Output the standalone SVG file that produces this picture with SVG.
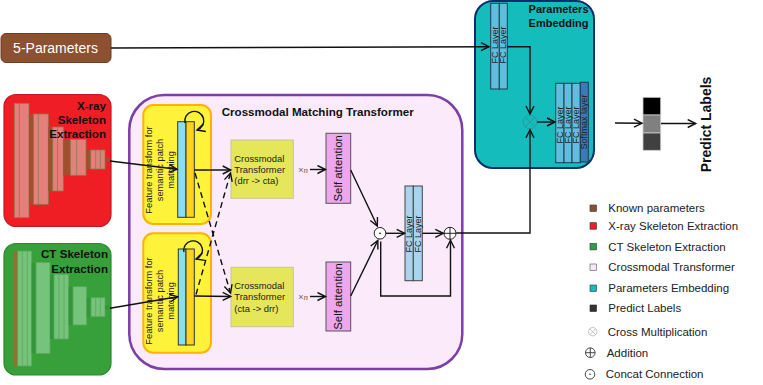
<svg xmlns="http://www.w3.org/2000/svg" width="763" height="385" viewBox="0 0 763 385">
<defs>
<style>
.t{font-family:"Liberation Sans",Arial,sans-serif;fill:#111}
.b{font-weight:bold}
.ln{fill:none;stroke:#111;stroke-width:1.4}
.dash{fill:none;stroke:#111;stroke-width:1.4;stroke-dasharray:6,4}
.pk{fill:#e4807c;stroke:#8a7a4a;stroke-width:0.8}
.dk{fill:#a0502d}
.lg{fill:#76c47c;stroke:#5aa860;stroke-width:0.8}
.dg{fill:#33963a}
.fc{fill:#5fbde0;stroke:#1d3d4d;stroke-width:1}
.fc2{fill:#a9d4ee;stroke:#444;stroke-width:1}
.fct{font-family:"Liberation Sans",Arial,sans-serif;font-size:9px;fill:#222}
.ft{font-family:"Liberation Sans",Arial,sans-serif;font-size:9.3px;fill:#222}
.lgt{font-family:"Liberation Sans",Arial,sans-serif;font-size:11.5px;fill:#222}
</style>
<marker id="ar" markerWidth="12" markerHeight="12" refX="9" refY="5" orient="auto" markerUnits="userSpaceOnUse">
<path d="M1,1 L9,5 L1,9" fill="none" stroke="#111" stroke-width="1.4"/>
</marker>
</defs>
<rect width="763" height="385" fill="#fff"/>

<g id="params5">
<rect x="1" y="33.5" width="110" height="29" rx="5" fill="#8b5130" stroke="#6e3b1e" stroke-width="1"/>
<text x="55.5" y="53" text-anchor="middle" class="t" style="fill:#fff;font-size:14px">5-Parameters</text>
</g>

<g id="xray">
<rect x="4" y="94.5" width="107" height="132" rx="12" fill="#ef1d24" stroke="#c8161c" stroke-width="1.2"/>
<rect class="pk" x="14.3" y="103.3" width="14.7" height="114.4"/>
<line x1="19.3" y1="103.3" x2="19.3" y2="217.7" stroke="#8a7a4a" stroke-width="0.8"/>
<rect class="dk" x="29" y="114" width="4.5" height="90.3"/>
<rect class="pk" x="33.5" y="114" width="14.8" height="90.3"/>
<line x1="38.3" y1="114" x2="38.3" y2="204.3" stroke="#8a7a4a" stroke-width="0.8"/>
<rect class="dk" x="48.3" y="127" width="4.4" height="64"/>
<rect class="pk" x="52.7" y="127" width="10.6" height="64"/>
<line x1="57.5" y1="127" x2="57.5" y2="191" stroke="#8a7a4a" stroke-width="0.8"/>
<rect class="dk" x="63.3" y="139.3" width="7" height="36"/>
<rect class="pk" x="70.3" y="139.3" width="15.7" height="36"/>
<line x1="76.7" y1="139.3" x2="76.7" y2="175.3" stroke="#8a7a4a" stroke-width="0.8"/>
<rect class="dk" x="86" y="150" width="4.7" height="19"/>
<rect class="pk" x="90.7" y="150" width="14.3" height="19"/>
<line x1="95.7" y1="150" x2="95.7" y2="169" stroke="#8a7a4a" stroke-width="0.8"/>
<line x1="100.3" y1="150" x2="100.3" y2="169" stroke="#8a7a4a" stroke-width="0.8"/>
<rect class="dk" x="105" y="158" width="5" height="3.7"/>
<text class="t b" text-anchor="end" style="font-size:11.6px"><tspan x="106" y="109.5">X-ray</tspan><tspan x="106" y="123.5">Skeleton</tspan><tspan x="106" y="137.5">Extraction</tspan></text>
</g>

<g id="ct">
<rect x="4" y="243.5" width="107" height="131.5" rx="12" fill="#37a03a" stroke="#2b8a2b" stroke-width="1.2"/>
<rect x="13.3" y="251" width="4.4" height="115" fill="#8b7332"/>
<rect class="lg" x="17.7" y="251" width="14" height="115"/>
<line x1="22.3" y1="251" x2="22.3" y2="366" stroke="#5aa860" stroke-width="0.8"/>
<line x1="27.3" y1="251" x2="27.3" y2="366" stroke="#5aa860" stroke-width="0.8"/>
<rect class="dg" x="31.7" y="262.5" width="4.3" height="91"/>
<rect class="lg" x="36" y="262.5" width="14" height="91"/>
<rect class="dg" x="50" y="274.3" width="4" height="64.7"/>
<rect class="lg" x="54" y="274.3" width="14.7" height="64.7"/>
<line x1="59" y1="274.3" x2="59" y2="339" stroke="#5aa860" stroke-width="0.8"/>
<line x1="64" y1="274.3" x2="64" y2="339" stroke="#5aa860" stroke-width="0.8"/>
<rect class="dg" x="68.7" y="286.7" width="4.3" height="38.3"/>
<rect class="lg" x="73" y="286.7" width="13.7" height="38.3"/>
<rect class="dg" x="86.7" y="297.7" width="4.3" height="19"/>
<rect class="lg" x="91" y="297.7" width="14" height="19"/>
<line x1="95.7" y1="297.7" x2="95.7" y2="316.7" stroke="#5aa860" stroke-width="0.8"/>
<line x1="100.3" y1="297.7" x2="100.3" y2="316.7" stroke="#5aa860" stroke-width="0.8"/>
<rect class="dg" x="105" y="305.5" width="5" height="3.7"/>
<text class="t b" text-anchor="end" style="font-size:11.6px"><tspan x="108" y="258.2">CT Skeleton</tspan><tspan x="108" y="272.5">Extraction</tspan></text>
</g>

<g id="cmt">
<rect x="129.3" y="95" width="333" height="274" rx="35" fill="#faeafa" stroke="#7b3fa8" stroke-width="2.5"/>
<text x="221.7" y="115.8" class="t b" style="font-size:11.6px">Crossmodal Matching Transformer</text>
</g>

<g id="ft-top">
<rect x="143.3" y="105" width="67.7" height="119" rx="10" fill="#fff23a" stroke="#ffb300" stroke-width="2"/>
<text transform="translate(160,170) rotate(-90)" class="ft" text-anchor="middle" dominant-baseline="central"><tspan x="0" y="-11.3">Feature transform for</tspan><tspan x="0" y="0">semantic patch</tspan><tspan x="0" y="11.3">matching</tspan></text>
<rect x="177.7" y="121.7" width="8.3" height="95.6" fill="#88dff0" stroke="#333" stroke-width="1"/>
<rect x="186" y="121.7" width="8.3" height="95.6" fill="#ffd21f" stroke="#333" stroke-width="1"/>
</g>

<g id="ft-bot">
<rect x="143.3" y="233.3" width="67.7" height="119.4" rx="10" fill="#fff23a" stroke="#ffb300" stroke-width="2"/>
<text transform="translate(160,301) rotate(-90)" class="ft" text-anchor="middle" dominant-baseline="central"><tspan x="0" y="-11.3">Feature transform for</tspan><tspan x="0" y="0">semantic patch</tspan><tspan x="0" y="11.3">matching</tspan></text>
<rect x="178.3" y="249" width="7.7" height="96" fill="#88dff0" stroke="#333" stroke-width="1"/>
<rect x="186" y="249" width="8.3" height="96" fill="#ffd21f" stroke="#333" stroke-width="1"/>
</g>

<g id="ct-top">
<rect x="231" y="140" width="62.3" height="58.3" fill="#e6e65a" stroke="#c4c4a4" stroke-width="1"/>
<text class="t" style="font-size:9.4px;fill:#222"><tspan x="234.3" y="161.5">Crossmodal</tspan><tspan x="234.3" y="173.2">Transformer</tspan><tspan x="234.3" y="184">(drr  -&gt; cta)</tspan></text>
</g>

<g id="ct-bot">
<rect x="231" y="267.3" width="62.3" height="59.4" fill="#e6e65a" stroke="#c4c4a4" stroke-width="1"/>
<text class="t" style="font-size:9.4px;fill:#222"><tspan x="234.3" y="289.3">Crossmodal</tspan><tspan x="234.3" y="300">Transformer</tspan><tspan x="234.3" y="311.6">(cta  -&gt; drr)</tspan></text>
</g>

<g id="sa-top">
<rect x="326" y="133.3" width="24.7" height="70" fill="#eea7ec" stroke="#555" stroke-width="1"/>
<text transform="translate(338.3,168.3) rotate(-90)" class="t" text-anchor="middle" dominant-baseline="central" style="font-size:11.4px">Self attention</text>
</g>
<g id="sa-bot">
<rect x="326" y="262" width="24.7" height="69" fill="#eea7ec" stroke="#555" stroke-width="1"/>
<text transform="translate(338.3,296.5) rotate(-90)" class="t" text-anchor="middle" dominant-baseline="central" style="font-size:11.4px">Self attention</text>
</g>

<g id="xn">
<text x="298.3" y="173" class="t" style="font-size:9px;fill:#666">×<tspan font-family="Liberation Serif" font-style="italic">n</tspan></text>
<text x="298.3" y="299.8" class="t" style="font-size:9px;fill:#666">×<tspan font-family="Liberation Serif" font-style="italic">n</tspan></text>
</g>

<g id="concat">
<circle cx="380" cy="233.3" r="5.8" fill="#fff" stroke="#222" stroke-width="1"/>
<circle cx="380" cy="233.3" r="0.9" fill="#222"/>
</g>

<g id="fc-mid">
<rect class="fc2" x="405" y="186" width="8.3" height="94.7"/>
<rect class="fc2" x="413.3" y="186" width="9" height="94.7"/>
<text transform="translate(409.2,234) rotate(-90)" class="fct" text-anchor="middle" dominant-baseline="central">FC Layer</text>
<text transform="translate(417.8,234) rotate(-90)" class="fct" text-anchor="middle" dominant-baseline="central">FC Layer</text>
</g>

<g id="add">
<circle cx="450" cy="233.3" r="6" fill="#fff" stroke="#222" stroke-width="1"/>
<path d="M444,233.3 H456 M450,227.3 V239.3" stroke="#222" stroke-width="1"/>
</g>

<g id="pe">
<rect x="475" y="1" width="119" height="167" rx="18" fill="#14bcbc" stroke="#0b2e6b" stroke-width="2"/>
<text class="t b" text-anchor="end" style="font-size:11px"><tspan x="588.5" y="13.3">Parameters</tspan><tspan x="588.5" y="27.3">Embedding</tspan></text>
<rect class="fc" x="490.7" y="3.3" width="8.6" height="85.7"/>
<rect class="fc" x="499.3" y="3.3" width="8" height="85.7"/>
<text transform="translate(495,45) rotate(-90)" class="fct" text-anchor="middle" dominant-baseline="central">FC Layer</text>
<text transform="translate(503.3,45) rotate(-90)" class="fct" text-anchor="middle" dominant-baseline="central">FC Layer</text>
<rect class="fc" x="555.7" y="83.3" width="8.3" height="79.4"/>
<rect class="fc" x="564" y="83.3" width="8" height="79.4"/>
<rect class="fc" x="572" y="83.3" width="8.3" height="79.4"/>
<rect x="580.3" y="82.3" width="8" height="79.7" fill="#3f78b4" stroke="#1d3d4d" stroke-width="1"/>
<text transform="translate(559.8,125) rotate(-90)" class="fct" text-anchor="middle" dominant-baseline="central">FC Layer</text>
<text transform="translate(568,125) rotate(-90)" class="fct" text-anchor="middle" dominant-baseline="central">FC Layer</text>
<text transform="translate(576.2,125) rotate(-90)" class="fct" text-anchor="middle" dominant-baseline="central">FC Layer</text>
<text transform="translate(584.3,122) rotate(-90)" class="fct" text-anchor="middle" dominant-baseline="central">Softmax layer</text>
<circle cx="530" cy="122" r="6.8" fill="none" stroke="#2a9a9a" stroke-width="1"/>
<path d="M525.2,117.2 L534.8,126.8 M534.8,117.2 L525.2,126.8" stroke="#2a9a9a" stroke-width="1"/>
</g>

<g id="labels">
<rect x="643" y="97.3" width="17.7" height="17.7" fill="#000" stroke="#ccc" stroke-width="0.8"/>
<rect x="643" y="115" width="17.7" height="18" fill="#808080" stroke="#ccc" stroke-width="0.8"/>
<rect x="643" y="133" width="17.7" height="17.3" fill="#404040" stroke="#ccc" stroke-width="0.8"/>
<text transform="translate(706,124.5) rotate(-90)" class="t b" text-anchor="middle" dominant-baseline="central" style="font-size:14px">Predict Labels</text>
</g>

<g id="connectors">
<line class="ln" x1="111" y1="48" x2="489" y2="46.7" marker-end="url(#ar)"/>
<polyline class="ln" points="507.3,46.7 530,46.7 530,114" marker-end="url(#ar)"/>
<line class="ln" x1="537" y1="122" x2="555" y2="122" marker-end="url(#ar)"/>
<line class="ln" x1="615" y1="123" x2="642" y2="123.3" marker-end="url(#ar)"/>
<line class="ln" x1="661" y1="123.5" x2="695.7" y2="123.5" marker-end="url(#ar)"/>
<line class="ln" x1="110" y1="161" x2="177" y2="169.3" marker-end="url(#ar)"/>
<line class="ln" x1="110" y1="308.3" x2="177.7" y2="296.7" marker-end="url(#ar)"/>
<line class="ln" x1="194.3" y1="170" x2="230.7" y2="170" marker-end="url(#ar)"/>
<line class="ln" x1="194.3" y1="296" x2="230.7" y2="296.5" marker-end="url(#ar)"/>
<line class="dash" x1="195" y1="173" x2="230.5" y2="293" marker-end="url(#ar)"/>
<line class="dash" x1="196" y1="294.5" x2="230.5" y2="173" marker-end="url(#ar)"/>
<path d="M185,123 A9.5,9.5 0 1 1 197,130" class="ln" marker-end="url(#ar)"/>
<path d="M184,252 A9.3,9.3 0 1 1 196,259" class="ln" marker-end="url(#ar)"/>
<line class="ln" x1="310" y1="169.5" x2="325.5" y2="169.5" marker-end="url(#ar)"/>
<line class="ln" x1="310" y1="296.5" x2="325.5" y2="296.5" marker-end="url(#ar)"/>
<line class="ln" x1="350.7" y1="170" x2="377.3" y2="226" marker-end="url(#ar)"/>
<line class="ln" x1="350.7" y1="296" x2="377.8" y2="240.5" marker-end="url(#ar)"/>
<line class="ln" x1="386" y1="233.3" x2="404.7" y2="233.3" marker-end="url(#ar)"/>
<line class="ln" x1="422.3" y1="233.3" x2="443.3" y2="233.3" marker-end="url(#ar)"/>
<polyline class="ln" points="380.7,241.5 380.7,296 450.5,296 450.5,240.2" marker-end="url(#ar)"/>
<polyline class="ln" points="456.2,233 530,233 530,129.8" marker-end="url(#ar)"/>
</g>

<g id="legend">
<rect x="590" y="205" width="6.5" height="6.5" fill="#8b5130" stroke="#333" stroke-width="0.6"/>
<text x="608.3" y="212.3" class="lgt">Known parameters</text>
<rect x="590" y="222.7" width="6.5" height="6.5" fill="#ef1d24" stroke="#333" stroke-width="0.6"/>
<text x="608.3" y="230" class="lgt">X-ray Skeleton Extraction</text>
<rect x="590" y="243.4" width="6.5" height="6.5" fill="#2ea043" stroke="#333" stroke-width="0.6"/>
<text x="608.3" y="250.8" class="lgt">CT Skeleton Extraction</text>
<rect x="590" y="264" width="6.5" height="6.5" fill="#f6e6f6" stroke="#555" stroke-width="0.6"/>
<text x="608.3" y="271.4" class="lgt">Crossmodal Transformer</text>
<rect x="590" y="285" width="6.5" height="6.5" fill="#14bcbc" stroke="#333" stroke-width="0.6"/>
<text x="608.3" y="292.4" class="lgt">Parameters Embedding</text>
<rect x="590" y="305" width="6.5" height="6.5" fill="#333" stroke="#222" stroke-width="0.6"/>
<text x="608.3" y="312.4" class="lgt">Predict Labels</text>
<circle cx="592.7" cy="331.7" r="4.2" fill="none" stroke="#bbb" stroke-width="0.9"/>
<path d="M589.7,328.7 L595.7,334.7 M595.7,328.7 L589.7,334.7" stroke="#bbb" stroke-width="0.9"/>
<text x="607.7" y="335.8" class="lgt">Cross Multiplication</text>
<circle cx="590.3" cy="352.7" r="4.8" fill="none" stroke="#333" stroke-width="0.9"/>
<path d="M585.5,352.7 H595.1 M590.3,347.9 V357.5" stroke="#333" stroke-width="0.9"/>
<text x="606.7" y="356.8" class="lgt">Addition</text>
<circle cx="590" cy="374.3" r="4.8" fill="none" stroke="#333" stroke-width="0.9"/>
<circle cx="590" cy="374.3" r="0.8" fill="#333"/>
<text x="605.7" y="378.4" class="lgt">Concat Connection</text>
</g>
</svg>
